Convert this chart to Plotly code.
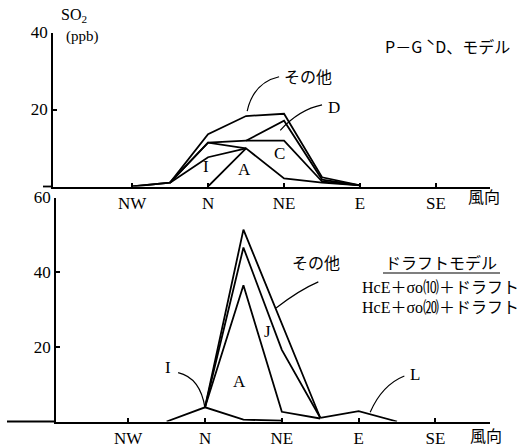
import plotly.graph_objects as go

# ---- data ----
dir_names = ["W", "WNW", "NW", "NNW", "N", "NNE", "NE", "ENE", "E", "ESE", "SE"]
tick_labels = ["NW", "N", "NE", "E", "SE"]
tick_pos = [2, 4, 6, 8, 10]

# Top panel (P-G 'D' model)
top_dirs = ["NW", "NNW", "N", "NNE", "NE", "ENE", "E"]
top_others = [0, 1.0, 13.6, 18.3, 18.9, 2.4, 0.3]
top_D = [None, None, None, 11.9, 17.1, 1.8, 0.3]
top_C = [0, 1.0, 11.4, 11.9, 11.9, 1.3, 0.3]
top_IC = [None, 1.0, 11.4, 9.9, None, None, None]
top_I = [None, 1.0, 7.6, 9.9, None, None, None]
top_A = [None, None, 0, 9.9, 2.1, 1.0, 0.3]

# Bottom panel (draft model)
bot_dirs = ["NNW", "N", "NNE", "NE", "ENE", "E", "ESE"]
bot_others = [None, 3.8, 51.4, None, 1.0, None, None]
bot_J = [None, 3.8, 46.6, 19.2, 1.0, None, None]
bot_A = [None, 3.8, 36.5, 2.6, 0.8, None, None]
bot_I = [0, 3.8, 0.5, 0.2, None, None, None]
bot_L = [None, None, None, None, 1.0, 2.8, 0]

SERIF = "Liberation Serif, Noto Sans CJK JP, serif"
JP = "Noto Sans CJK JP, Liberation Serif, sans-serif"

def pos(names):
    return [dir_names.index(n) for n in names]

fig = go.Figure()

line = dict(color="black", width=1.8)
for ys in [top_others, top_D, top_C, top_IC, top_I, top_A]:
    fig.add_trace(go.Scatter(x=pos(top_dirs), y=ys, mode="lines", line=line,
                             connectgaps=True, showlegend=False, hoverinfo="skip",
                             xaxis="x", yaxis="y"))
for ys in [bot_others, bot_J, bot_A, bot_I, bot_L]:
    fig.add_trace(go.Scatter(x=pos(bot_dirs), y=ys, mode="lines", line=line,
                             connectgaps=True, showlegend=False, hoverinfo="skip",
                             xaxis="x2", yaxis="y2"))

W, H = 531, 448
def px(v):
    return v / W
def py(v):
    return 1 - v / H

axis_common = dict(showgrid=False, zeroline=False, showline=True, linecolor="black",
                   linewidth=1.8, ticks="inside", ticklen=4, tickcolor="black",
                   tickwidth=1.5, automargin=False,
                   tickfont=dict(family=SERIF, size=17, color="black"))

fig.update_layout(
    template="none",
    width=W, height=H, margin=dict(l=0, r=0, t=0, b=0, pad=0), autosize=False,
    paper_bgcolor="white", plot_bgcolor="white",
    xaxis=dict(domain=[px(53), px(490)], range=[-0.08, 11.42], anchor="y",
               tickvals=tick_pos, ticktext=tick_labels, **axis_common),
    yaxis=dict(domain=[py(186.5), py(32.5)], range=[0, 40], anchor="x",
               tickvals=[20, 40], **axis_common),
    xaxis2=dict(domain=[px(56), px(490)], range=[0.12, 11.42], anchor="y2",
                tickvals=tick_pos, ticktext=tick_labels, **axis_common),
    yaxis2=dict(domain=[py(421.5), py(197.5)], range=[0, 60], anchor="x2",
                tickvals=[20, 40, 60], **axis_common),
)

# baseline extensions to the left of the y axes
fig.add_shape(type="line", xref="paper", yref="paper", x0=px(43), x1=px(53),
              y0=py(186.5), y1=py(186.5), line=dict(color="black", width=1.8))
fig.add_shape(type="line", xref="paper", yref="paper", x0=px(7), x1=px(56),
              y0=py(421.5), y1=py(421.5), line=dict(color="black", width=1.8))

def ann(text, x, y, xref="x", yref="y", size=17, family=SERIF, xanchor="center"):
    fig.add_annotation(text=text, x=x, y=y, xref=xref, yref=yref, showarrow=False,
                       xanchor=xanchor, yanchor="middle",
                       font=dict(family=family, size=size, color="black"))

# axis titles
ann("SO<sub>2</sub>", px(74), py(16), "paper", "paper", size=16)
ann("(ppb)", px(82), py(36), "paper", "paper", size=15)
ann("風向", px(484), py(196), "paper", "paper", size=16, family=JP)
ann("風向", px(486), py(435), "paper", "paper", size=16, family=JP)

# top panel labels
ann("P－G ˋD、モデル", px(447), py(46), "paper", "paper", size=16, family=JP)
ann("その他", 6.63, 28.7, size=16, family=JP)
ann("D", 7.32, 20.4)
ann("C", 5.89, 8.7)
ann("A", 4.97, 4.3)
ann("I", 3.95, 5.1)

leader = dict(color="black", width=1.2)
fig.add_shape(type="path", xref="x", yref="y",
              path="M 5.87 28.5 Q 5.2 27.0 5.03 19.6", line=leader)
fig.add_shape(type="path", xref="x", yref="y",
              path="M 7.0 21.2 Q 6.4 20.0 5.9 14.6", line=leader)

# bottom panel labels
ann("その他", 6.9, 42.7, "x2", "y2", size=16, family=JP)
ann("J", 5.62, 24.0, "x2", "y2")
ann("A", 4.89, 10.6, "x2", "y2")
ann("I", 3.04, 14.5, "x2", "y2")
ann("L", 9.47, 12.5, "x2", "y2")
fig.add_shape(type="path", xref="x2", yref="y2",
              path="M 6.95 37.4 Q 6.45 35.2 5.85 30.4", line=leader)
fig.add_shape(type="path", xref="x2", yref="y2",
              path="M 3.30 13.1 Q 3.88 11.7 4.0 3.6", line=leader)
fig.add_shape(type="path", xref="x2", yref="y2",
              path="M 9.19 12.2 Q 8.61 9.8 8.3 2.5", line=leader)

ann("ドラフトモデル", px(441), py(262), "paper", "paper", size=16, family=JP)
fig.add_shape(type="line", xref="paper", yref="paper", x0=px(383), x1=px(500),
              y0=py(273), y1=py(273), line=dict(color="black", width=1.2))
ann("HcE＋σo⑽＋ドラフト", px(360), py(287), "paper", "paper", size=16,
    family=SERIF, xanchor="left")
ann("HcE＋σo⒇＋ドラフト", px(360), py(307), "paper", "paper", size=16,
    family=SERIF, xanchor="left")

fig.write_html("out.html")
